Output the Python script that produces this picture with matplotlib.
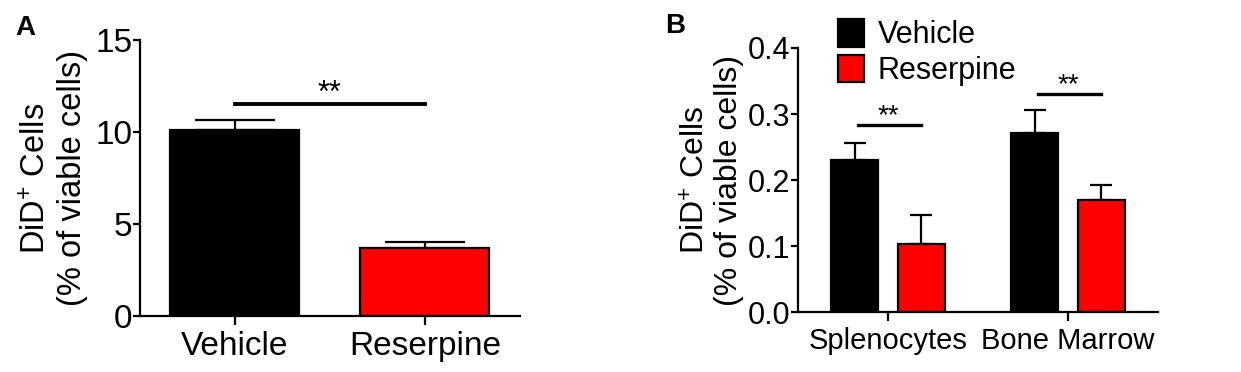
import numpy as np
import matplotlib
matplotlib.use("Agg")
import matplotlib.pyplot as plt
from matplotlib.ticker import FormatStrFormatter

plt.rcParams["font.family"] = ["Liberation Sans", "DejaVu Sans"]
plt.rcParams["mathtext.fontset"] = "custom"
plt.rcParams["mathtext.rm"] = "Liberation Sans"
plt.rcParams["mathtext.it"] = "Liberation Sans:italic"

# panel A data
groups_a = ["Vehicle", "Reserpine"]
mean_a = [10.1, 3.7]
sem_a = [0.55, 0.3]

# panel B data
cells_b = ["Splenocytes", "Bone Marrow"]
vehicle_b = [0.230, 0.272]
vehicle_err_b = [0.026, 0.034]
reserpine_b = [0.103, 0.170]
reserpine_err_b = [0.044, 0.023]

colors = ["black", "#ff0000"]
ylab = "DiD$^{+}$ Cells\n(% of viable cells)"

fig = plt.figure(figsize=(12.41, 3.72), dpi=100)

def style(ax, fs_y, fs_x):
    for s in ["top", "right"]:
        ax.spines[s].set_visible(False)
    for s in ["left", "bottom"]:
        ax.spines[s].set_linewidth(1.6)
    ax.tick_params(width=1.6, direction="out")
    ax.tick_params(axis="x", length=6.5, pad=4, labelsize=fs_x)
    ax.tick_params(axis="y", length=5, pad=0.5, labelsize=fs_y)

# ---- A ----
ax1 = fig.add_axes([0.1128, 0.1505, 0.306, 0.742])
x = np.arange(len(groups_a))
ax1.bar(x, mean_a, width=0.68, color=colors, edgecolor="black", linewidth=1.6, zorder=2)
ax1.errorbar(x, mean_a, yerr=[np.zeros(2), sem_a], fmt="none", ecolor="black",
             elinewidth=1.6, capsize=29, capthick=1.6, zorder=1)
ax1.set_xlim(-0.5, 1.5)
ax1.set_ylim(0, 15)
ax1.set_yticks([0, 5, 10, 15])
ax1.set_xticks(x)
ax1.set_xticklabels(groups_a)
style(ax1, 24, 24)
ax1.set_ylabel(ylab, fontsize=23.5, linespacing=1.2, labelpad=5)
ax1.plot([0, 1], [11.5, 11.5], color="black", lw=2.8, clip_on=False)
ax1.text(0.5, 11.65, "**", ha="center", va="baseline", fontsize=22)
fig.text(0.012, 0.905, "A", fontsize=20, fontweight="bold")

# ---- B ----
ax2 = fig.add_axes([0.643, 0.161, 0.290, 0.71])
xb = np.arange(len(cells_b))
off = 0.185
w = 0.26
ax2.bar(xb - off, vehicle_b, width=w, color=colors[0], edgecolor="black",
        linewidth=1.6, zorder=2, label="Vehicle")
ax2.bar(xb + off, reserpine_b, width=w, color=colors[1], edgecolor="black",
        linewidth=1.6, zorder=2, label="Reserpine")
ax2.errorbar(xb - off, vehicle_b, yerr=[np.zeros(2), vehicle_err_b], fmt="none",
             ecolor="black", elinewidth=1.6, capsize=8, capthick=1.6, zorder=1)
ax2.errorbar(xb + off, reserpine_b, yerr=[np.zeros(2), reserpine_err_b], fmt="none",
             ecolor="black", elinewidth=1.6, capsize=8, capthick=1.6, zorder=1)
ax2.set_xlim(-0.5, 1.5)
ax2.set_ylim(0, 0.4)
ax2.set_yticks([0.0, 0.1, 0.2, 0.3, 0.4])
ax2.yaxis.set_major_formatter(FormatStrFormatter("%.1f"))
ax2.set_xticks(xb)
ax2.set_xticklabels(cells_b)
style(ax2, 22, 21)
ax2.set_ylabel(ylab, fontsize=23, linespacing=1.1, labelpad=3)
sig_y = [0.283, 0.330]
star_y = [0.286, 0.333]
for i in range(2):
    ax2.plot([i - off + 0.02, i + off], [sig_y[i], sig_y[i]], color="black", lw=2.4, clip_on=False)
    ax2.text(i, star_y[i], "**", ha="center", va="baseline", fontsize=20)
ax2.legend(loc="upper left", bbox_to_anchor=(0.078, 1.155), frameon=False, fontsize=22,
           handlelength=0.85, handleheight=1.0, handletextpad=0.45, labelspacing=0.15,
           borderaxespad=0)
fig.text(0.536, 0.91, "B", fontsize=20, fontweight="bold")

fig.savefig("out.png", dpi=100)
